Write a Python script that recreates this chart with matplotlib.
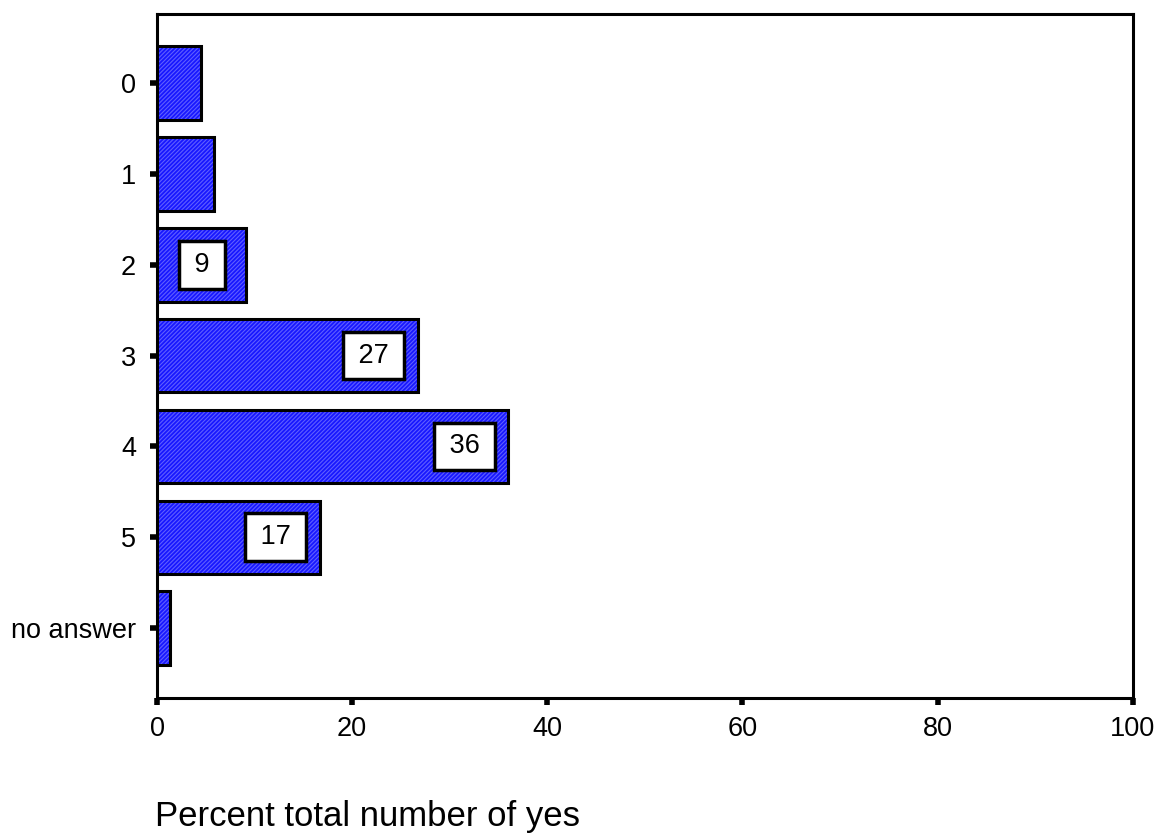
import matplotlib.pyplot as plt

categories = ['0', '1', '2', '3', '4', '5', 'no answer']
percent = [4.5, 5.8, 9.1, 26.7, 36.0, 16.7, 1.3]
bar_labels = ['', '', '9', '27', '36', '17', '']

plt.rcParams['font.family'] = ['Liberation Sans', 'DejaVu Sans']
plt.rcParams['hatch.linewidth'] = 0.8

fig = plt.figure(figsize=(11.63, 8.33), dpi=100)
ax = fig.add_axes([0.135, 0.162, 0.839, 0.821])

y = list(range(len(categories)))

# blue fill, then fine light hatch on top, then black outline
ax.barh(y, percent, height=0.81, color='#1818ff', edgecolor='none', zorder=2)
ax.barh(y, percent, height=0.81, color='none', edgecolor='#6060ff',
        hatch='////////', linewidth=0, zorder=3)
ax.barh(y, percent, height=0.81, color='none', edgecolor='black',
        linewidth=2.2, zorder=4)

for yi, val, lab in zip(y, percent, bar_labels):
    if lab:
        ax.annotate('\u2006' + lab + '\u2006', xy=(val, yi), xytext=(-44, 0),
                    textcoords='offset pixels', ha='center', va='center',
                    fontsize=19.5, zorder=5,
                    bbox=dict(boxstyle='square,pad=0.4', fc='white', ec='black', lw=2.5))

ax.set_xlim(0, 100)
ax.set_ylim(6.77, -0.76)
ax.set_xticks([0, 20, 40, 60, 80, 100])
ax.set_yticks(y)
ax.set_yticklabels(categories)

for s in ax.spines.values():
    s.set_linewidth(2.2)
ax.tick_params(axis='both', direction='out', length=5, width=4, labelsize=19.5, pad=8)
ax.tick_params(axis='y', pad=10)

fig.text(155 / 1163, 1 - 826 / 833, 'Percent total number of yes',
         fontsize=25, ha='left', va='baseline')

fig.savefig('out.png', dpi=100)
